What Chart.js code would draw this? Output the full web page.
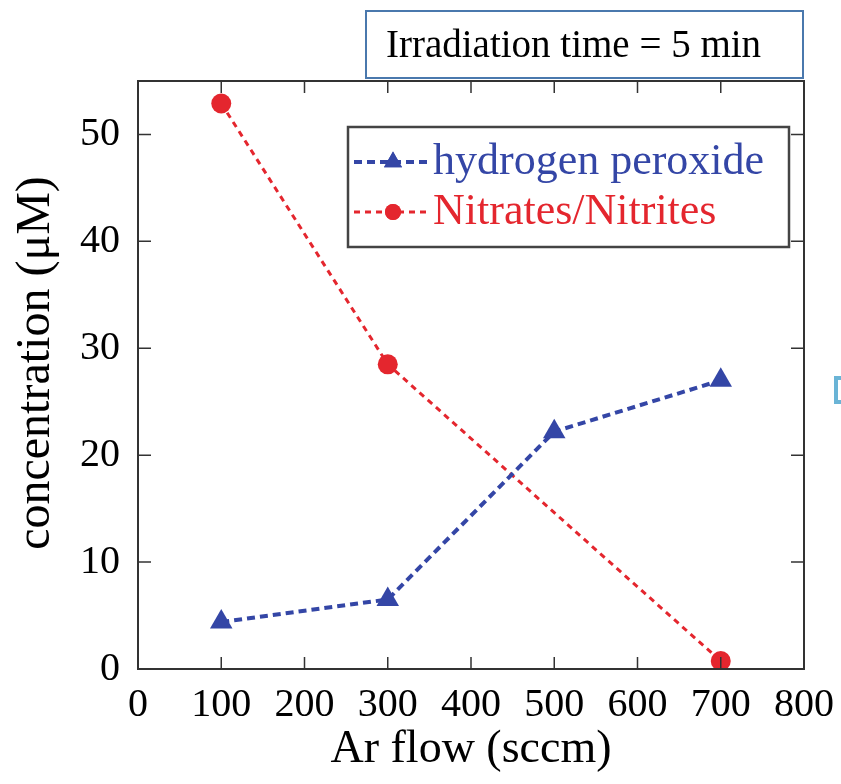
<!DOCTYPE html>
<html>
<head>
<meta charset="utf-8">
<script src="https://cdn.jsdelivr.net/npm/chart.js@4"></script>
<style>
  html, body { margin: 0; padding: 0; background: #fff; }
  #wrap { position: relative; width: 841px; height: 784px; }
</style>
</head>
<body>
<div id="wrap"><canvas id="chart" width="841" height="784"></canvas></div>
<script>
// --- DATA ---
const arFlow = [100, 300, 500, 700];
const h2o2 = [4.4, 6.5, 22.2, 27.0];
const nitrateFlow = [100, 300, 700];
const nitrates = [52.9, 28.5, 0.75];
const xTicks = [0, 100, 200, 300, 400, 500, 600, 700, 800];
const yTicks = [0, 10, 20, 30, 40, 50];

const BLUE = '#3446a6';
const RED = '#e4262e';
const FRAME = '#333';
const SERIF = '"Liberation Serif", "Times New Roman", serif';

const toPoints = (xs, ys) => xs.map((x, i) => ({ x: x, y: ys[i] }));

// inward ticks + full frame, like the original plot
const framePlugin = {
    id: 'frame',
    afterDatasetsDraw(chart) {
        const { ctx, chartArea: a, scales } = chart;
        ctx.save();
        ctx.strokeStyle = FRAME;
        ctx.lineWidth = 2;
        ctx.strokeRect(a.left, a.top, a.right - a.left, a.bottom - a.top);
        ctx.lineWidth = 1.5;
        ctx.beginPath();
        xTicks.forEach(v => {
            const px = scales.x.getPixelForValue(v);
            ctx.moveTo(px, a.bottom); ctx.lineTo(px, a.bottom - 12);
            ctx.moveTo(px, a.top); ctx.lineTo(px, a.top + 12);
        });
        yTicks.forEach(v => {
            const py = scales.y.getPixelForValue(v);
            ctx.moveTo(a.left, py); ctx.lineTo(a.left + 13, py);
            ctx.moveTo(a.right, py); ctx.lineTo(a.right - 13, py);
        });
        ctx.stroke();
        ctx.restore();
    }
};

// legend box with dashed line samples + title box above the plot
const boxesPlugin = {
    id: 'boxes',
    afterDraw(chart) {
        const { ctx } = chart;
        ctx.save();

        // title box
        ctx.fillStyle = '#fff';
        ctx.fillRect(366, 11, 437, 67);
        ctx.strokeStyle = '#4a78ad';
        ctx.lineWidth = 2;
        ctx.strokeRect(366, 11, 437, 67);
        ctx.fillStyle = '#000';
        ctx.font = '39px ' + SERIF;
        ctx.textBaseline = 'middle';
        ctx.textAlign = 'left';
        ctx.fillText('Irradiation time = 5 min', 386, 47);

        // legend box
        ctx.fillStyle = '#fff';
        ctx.fillRect(348, 127, 441, 120);
        ctx.strokeStyle = '#444';
        ctx.lineWidth = 2.5;
        ctx.strokeRect(348, 127, 441, 120);

        chart.data.datasets.forEach((ds, i) => {
            const y = 162 + i * 50;
            ctx.strokeStyle = ds.borderColor;
            ctx.lineWidth = ds.borderWidth;
            ctx.setLineDash(ds.borderDash);
            ctx.beginPath();
            ctx.moveTo(354, y); ctx.lineTo(430, y);
            ctx.stroke();
            ctx.setLineDash([]);
            ctx.fillStyle = ds.pointBackgroundColor;
            Chart.helpers.drawPoint(ctx, { pointStyle: ds.pointStyle, radius: ds.pointRadius * 0.8, rotation: 0, borderWidth: 0 }, 393, y);
            ctx.fill();
            ctx.font = '44px ' + SERIF;
            ctx.textBaseline = 'middle';
            ctx.fillStyle = ds.borderColor;
            ctx.fillText(ds.label, 433, y);
        });

        // stray cropped mark on the right edge of the picture
        ctx.strokeStyle = '#6ab4d6';
        ctx.lineWidth = 4;
        ctx.strokeRect(836, 378, 12, 24);
        ctx.restore();
    }
};

new Chart(document.getElementById('chart'), {
    type: 'line',
    data: {
        datasets: [{
            label: 'hydrogen peroxide',
            data: toPoints(arFlow, h2o2),
            borderColor: BLUE,
            borderWidth: 4,
            borderDash: [8, 5],
            pointStyle: 'triangle',
            pointRadius: 13,
            pointBackgroundColor: BLUE,
            pointBorderWidth: 0,
            tension: 0
        }, {
            label: 'Nitrates/Nitrites',
            data: toPoints(nitrateFlow, nitrates),
            borderColor: RED,
            borderWidth: 3,
            borderDash: [6, 5],
            pointStyle: 'circle',
            pointRadius: 10,
            pointBackgroundColor: RED,
            pointBorderWidth: 0,
            tension: 0
        }]
    },
    options: {
        responsive: false,
        animation: false,
        layout: { padding: { top: 81, right: 37, left: 0, bottom: 0 } },
        plugins: {
            legend: { display: false },
            tooltip: { enabled: false }
        },
        scales: {
            x: {
                type: 'linear',
                min: 0, max: 800,
                afterBuildTicks: s => { s.ticks = xTicks.map(v => ({ value: v })); },
                afterFit: s => { s.height = 115; s.paddingLeft = 0; s.paddingRight = 0; },
                grid: { display: false, drawTicks: false },
                border: { display: false },
                ticks: { color: '#000', padding: 12, font: { family: SERIF, size: 40 }, maxRotation: 0, autoSkip: false },
                title: { display: true, text: 'Ar flow (sccm)', color: '#000', font: { family: SERIF, size: 46 }, padding: 6 }
            },
            y: {
                min: 0, max: 55,
                afterBuildTicks: s => { s.ticks = yTicks.map(v => ({ value: v })); },
                afterFit: s => { s.width = 138; s.paddingTop = 0; s.paddingBottom = 0; },
                grid: { display: false, drawTicks: false },
                border: { display: false },
                ticks: { color: '#000', padding: 18, font: { family: SERIF, size: 40 } },
                title: { display: true, text: '  concentration (μM)', color: '#000', font: { family: SERIF, size: 48 }, padding: 8 }
            }
        }
    },
    plugins: [framePlugin, boxesPlugin]
});
</script>
</body>
</html>
